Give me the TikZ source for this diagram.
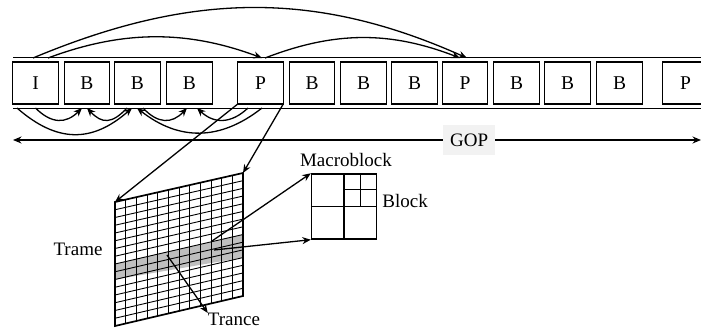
\documentclass[tikz,border=0pt]{standalone}
\usepackage{fontspec}
\setmainfont{Liberation Serif}
\usepackage{tikz}
\usetikzlibrary{arrows.meta,positioning,calc}

\begin{document}
\begin{tikzpicture}[x=1pt, y=-1pt, >={Stealth[length=8.5pt,width=7pt]},
  frm/.style={draw, line width=1.1pt, minimum width=45.5pt, minimum height=42pt,
              inner sep=0pt, outer xsep=0pt, outer ysep=4pt, font=\fontsize{19.5}{22}\selectfont},
  arc/.style={->, line width=1.3pt},
  lbl/.style={inner sep=0pt, font=\fontsize{19}{22}\selectfont}]
  \clip (0,0) rectangle (701,329);

  % GOP strip
  \draw[line width=1pt] (13,58) -- (710,58) (13,108) -- (710,108);
  \foreach \n/\t/\x in {fI/I/35.5, fB1/B/87, fB2/B/137.5, fB3/B/189.5, fP1/P/260.5,
                        fB4/B/312, fB5/B/363.5, fB6/B/414.5, fP2/P/465,
                        fB7/B/516.5, fB8/B/567.5, fB9/B/619.5, fP3/P/685.5}
    \node[frm] (\n) at (\x,83) {\t};

  % forward prediction
  \draw[arc] ([xshift=12.5pt]fI.north) .. controls +(75,-28) and +(-75,-28) .. ([xshift=1.5pt]fP1.north);
  \draw[arc] ([xshift=-2.5pt]fI.north) .. controls +(160,-67) and +(-150,-67) .. ([xshift=2pt]fP2.north);
  \draw[arc] ([xshift=4.5pt]fP1.north) .. controls +(70,-27) and +(-70,-27) .. ([xshift=-5pt]fP2.north);

  % bidirectional prediction
  \draw[arc] ([xshift=-18.5pt]fI.south) .. controls +(40,35) and +(-40,35) .. ([xshift=-5.5pt]fB2.south);
  \draw[arc] (fI.south) .. controls +(16,16) and +(-16,16) .. ([xshift=-5pt]fB1.south);
  \draw[arc] ([xshift=-10.5pt]fB2.south) .. controls +(-15,16) and +(15,16) .. (fB1.south);
  \draw[arc] ([xshift=5.5pt]fB2.south) .. controls +(15,16) and +(-15,16) .. ([xshift=-2.5pt]fB3.south);
  \draw[arc] ([xshift=-12.5pt]fP1.south) .. controls +(-17,16) and +(17,16) .. ([xshift=7.5pt]fB3.south);
  \draw[arc] ([xshift=1.5pt]fP1.south) .. controls +(-42,33) and +(42,33) .. ([xshift=-0.5pt]fB2.south);

  % GOP span
  \coordinate (gopL) at (13,140);
  \coordinate (gopR) at (701,140);
  \draw[<->, line width=1.3pt] (gopL) -- node[pos=0.663, lbl, fill=gray!10, inner xsep=7pt,
    minimum height=30pt] (gop) {GOP} (gopR);

  % frame with its grid and slice
  \coordinate (frTL) at (115,202);
  \coordinate (frTR) at (243,173);
  \coordinate (frBR) at (243,296);
  \coordinate (frBL) at (115,326);
  \fill[gray!50] ($(frTL)!8/16!(frBL)$) -- ($(frTR)!8/16!(frBR)$)
    -- ($(frTR)!11/16!(frBR)$) -- ($(frTL)!10/16!(frBL)$) -- cycle;
  \foreach \i in {1,...,11}
    \draw[line width=0.9pt] ($(frTL)!\i/12!(frTR)$) -- ($(frBL)!\i/12!(frBR)$);
  \foreach \j in {1,...,15}
    \draw[line width=0.9pt] ($(frTL)!\j/16!(frBL)$) -- ($(frTR)!\j/16!(frBR)$);
  \draw[line width=1.7pt, line join=miter] (frTL) -- (frTR) -- (frBR) -- (frBL) -- cycle;

  \draw[arc] ([yshift=4pt]fP1.south west) -- (frTL);
  \draw[arc] ([yshift=4pt]fP1.south east) -- (frTR);

  \node[lbl] (trame) at (78,249) {Trame};
  \node[lbl] (trance) at (234,319.5) {Trance};
  \coordinate (tsrc) at (167,255);
  \draw[arc] (tsrc) -- (trance.north west);

  % macroblock
  \node[draw, line width=1.4pt, minimum size=65pt, inner sep=0pt] (mb) at (344,206.5) {};
  \draw[line width=1.1pt] (mb.north) -- (mb.south) (mb.west) -- (mb.east);
  \draw[line width=1.1pt] ($(mb.north)!0.5!(mb.north east)$) -- ($(mb.center)!0.5!(mb.east)$)
    ($(mb.north east)!0.5!(mb.east)$) -- ($(mb.north)!0.5!(mb.center)$);
  \node[lbl, above=6pt of mb, xshift=2pt] (mbl) {Macroblock};
  \node[lbl, right=5pt of mb, yshift=5.5pt] (blk) {Block};

  \coordinate (mbs1) at (212,241);
  \coordinate (mbs2) at (214,250);
  \draw[arc] (mbs1) -- (mb.north west);
  \draw[arc] (mbs2) -- (mb.south west);
\end{tikzpicture}
\end{document}
